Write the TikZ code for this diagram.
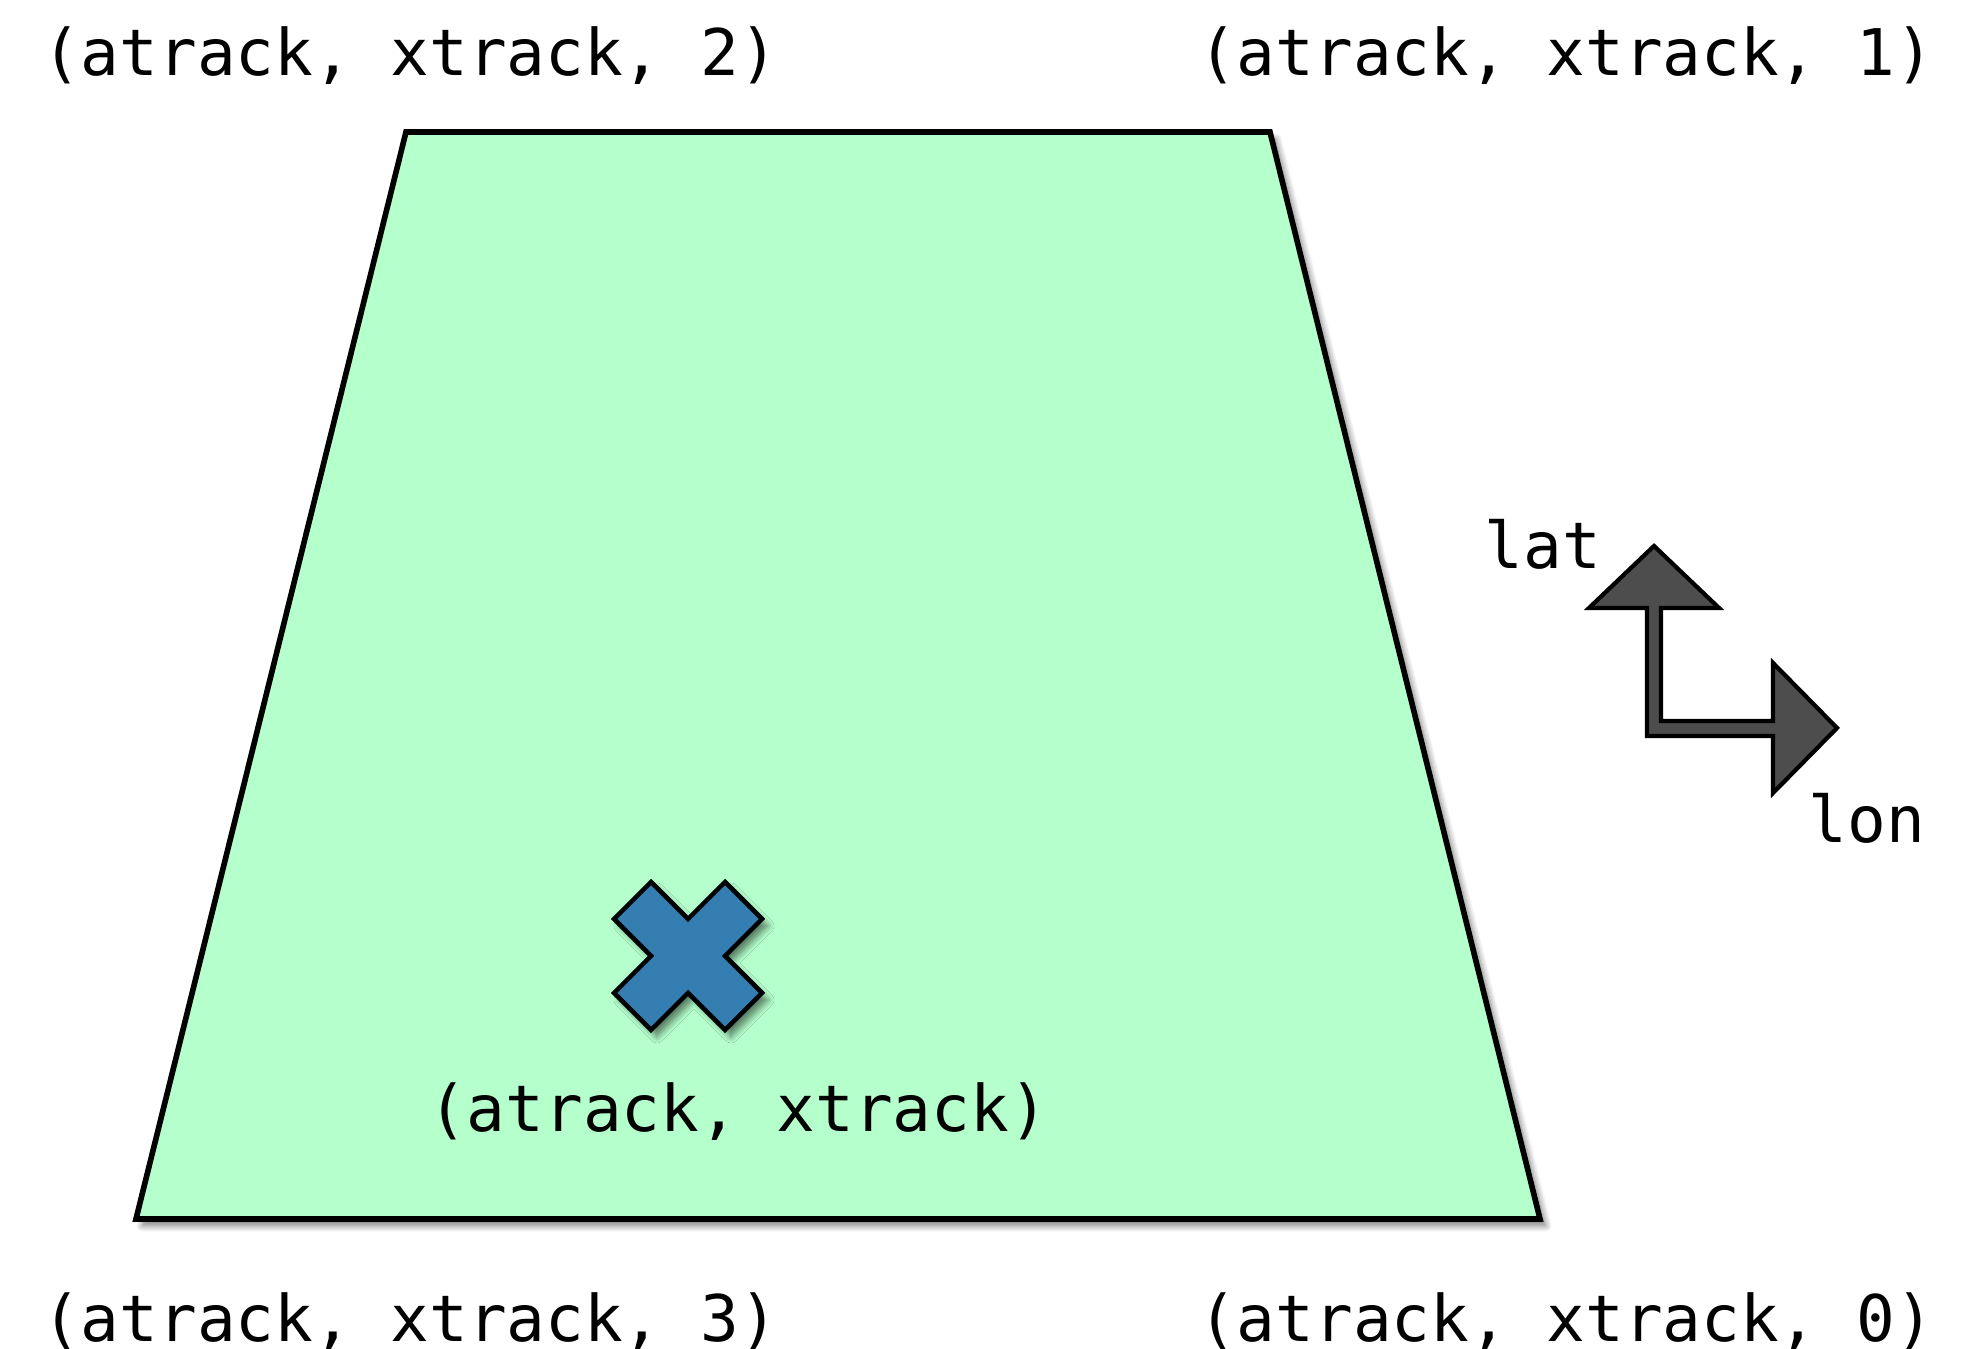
\documentclass[tikz,border=0pt]{standalone}
\usepackage{fontspec}
\setmonofont{DejaVu Sans Mono}
\usetikzlibrary{positioning, shadows.blur}
\definecolor{swath}{RGB}{180,255,204}
\definecolor{pixel}{RGB}{52,126,178}
\definecolor{dirgray}{RGB}{77,77,77}

\begin{document}
\begin{tikzpicture}[
    lbl/.style={anchor=base, inner sep=0pt, font=\ttfamily\fontsize{18.3}{20}\selectfont},
    shade/.style={blur shadow={shadow xshift=0.06cm, shadow yshift=-0.07cm, shadow blur steps=8, shadow opacity=50}}
  ]
      \useasboundingbox (0,0) rectangle (19.63,13.49);
      % corners of the swath
      \coordinate (c0) at (15.40,1.30);
      \coordinate (c1) at (12.70,12.17);
      \coordinate (c2) at (4.06,12.17);
      \coordinate (c3) at (1.36,1.30);
      \draw[fill=swath, line width=1.6pt, line join=miter, shade] (c0) -- (c1) -- (c2) -- (c3) -- cycle;
      \node[lbl] (l2) at (4.10,12.73) {(atrack, xtrack, 2)};
      \node[lbl] (l1) at (15.66,12.73) {(atrack, xtrack, 1)};
      \node[lbl] (l3) at (4.10,0.07) {(atrack, xtrack, 3)};
      \node[lbl] (l0) at (15.66,0.07) {(atrack, xtrack, 0)};
      % pixel centre
      \coordinate (px) at (6.88,3.93);
      \draw[fill=pixel, line width=1.3pt, shade, shift={(px)}, scale=0.37]
        (0,1) -- (-1,2) -- (-2,1) -- (-1,0) -- (-2,-1) -- (-1,-2)
        -- (0,-1) -- (1,-2) -- (2,-1) -- (1,0) -- (2,1) -- (1,2) -- cycle;
      \node[lbl] (lpx) at (7.38,2.17) {(atrack, xtrack)};
      % lat / lon
      \draw[fill=dirgray, line width=1.2pt, line join=miter]
        (16.54,8.03) -- (17.19,7.41) -- (16.61,7.41) -- (16.61,6.28)
        -- (17.73,6.28) -- (17.73,6.86) -- (18.37,6.21) -- (17.73,5.56)
        -- (17.73,6.13) -- (16.47,6.13) -- (16.47,7.41) -- (15.89,7.41) -- cycle;
      \node[lbl] (lat) at (15.43,7.80) {lat};
      \node[lbl] (lon) at (18.67,5.06) {lon};
    \end{tikzpicture}
\end{document}
